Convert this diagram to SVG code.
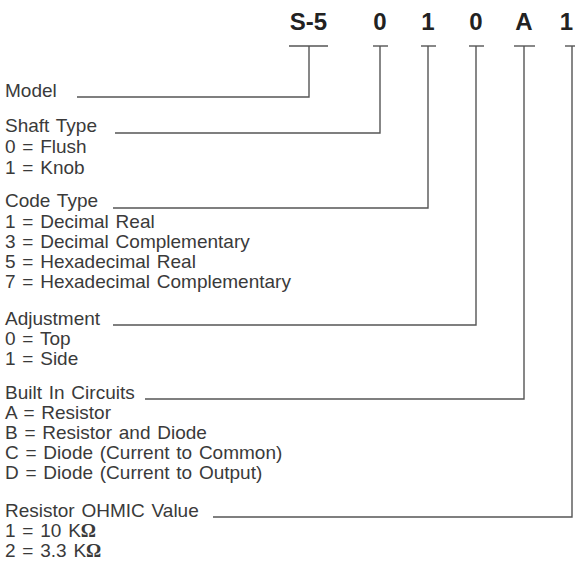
<svg xmlns="http://www.w3.org/2000/svg" width="575" height="562" viewBox="0 0 575 562">
<style>
.code{font-family:"Liberation Sans",Arial,sans-serif;font-weight:bold;font-size:24px;fill:#222;text-anchor:middle}
.lbl{font-family:"Liberation Sans",Arial,sans-serif;font-size:19px;fill:#3a3a3a;word-spacing:1.5px}
.om{font-family:"Liberation Serif","Times New Roman",serif;font-weight:bold}
.ln{fill:none;stroke:#555;stroke-width:1.4}
</style>
<rect width="575" height="562" fill="#fff"/>
<g id="code-model"><text class="code" x="308.5" y="30">S-5</text><line class="ln" x1="289" y1="46" x2="328" y2="46"/></g>
<g id="code-shaft"><text class="code" x="380" y="30">0</text><line class="ln" x1="373" y1="46" x2="388" y2="46"/></g>
<g id="code-codetype"><text class="code" x="428" y="30">1</text><line class="ln" x1="421" y1="46" x2="436" y2="46"/></g>
<g id="code-adjust"><text class="code" x="476" y="30">0</text><line class="ln" x1="469" y1="46" x2="484" y2="46"/></g>
<g id="code-circuit"><text class="code" x="524" y="30">A</text><line class="ln" x1="514" y1="46" x2="535" y2="46"/></g>
<g id="code-ohmic"><text class="code" x="566.5" y="30">1</text><line class="ln" x1="565" y1="46" x2="578" y2="46"/></g>

<g id="connectors">
<polyline class="ln" points="309,46 309,97 77,97"/>
<polyline class="ln" points="380,46 380,133 115,133"/>
<polyline class="ln" points="428,46 428,208 113,208"/>
<polyline class="ln" points="476,46 476,325 113,325"/>
<polyline class="ln" points="524,46 524,399 145,399"/>
<polyline class="ln" points="572,46 572,517 213,517"/>
</g>

<g id="model"><text class="lbl" x="5" y="97">Model</text></g>
<g id="shaft-type">
<text class="lbl" x="5" y="132">Shaft Type</text>
<text class="lbl" x="5" y="153">0 = Flush</text>
<text class="lbl" x="5" y="174">1 = Knob</text>
</g>
<g id="code-type">
<text class="lbl" x="5" y="207">Code Type</text>
<text class="lbl" x="5" y="228">1 = Decimal Real</text>
<text class="lbl" x="5" y="248">3 = Decimal Complementary</text>
<text class="lbl" x="5" y="268">5 = Hexadecimal Real</text>
<text class="lbl" x="5" y="288">7 = Hexadecimal Complementary</text>
</g>
<g id="adjustment">
<text class="lbl" x="5" y="325">Adjustment</text>
<text class="lbl" x="5" y="345">0 = Top</text>
<text class="lbl" x="5" y="365">1 = Side</text>
</g>
<g id="built-in-circuits">
<text class="lbl" x="5" y="399">Built In Circuits</text>
<text class="lbl" x="5" y="419">A = Resistor</text>
<text class="lbl" x="5" y="439">B = Resistor and Diode</text>
<text class="lbl" x="5" y="459">C = Diode (Current to Common)</text>
<text class="lbl" x="5" y="479">D = Diode (Current to Output)</text>
</g>
<g id="resistor-ohmic-value">
<text class="lbl" x="5" y="517">Resistor OHMIC Value</text>
<text class="lbl" x="5" y="537">1 = 10 K<tspan class="om">Ω</tspan></text>
<text class="lbl" x="5" y="557">2 = 3.3 K<tspan class="om">Ω</tspan></text>
</g>
</svg>
